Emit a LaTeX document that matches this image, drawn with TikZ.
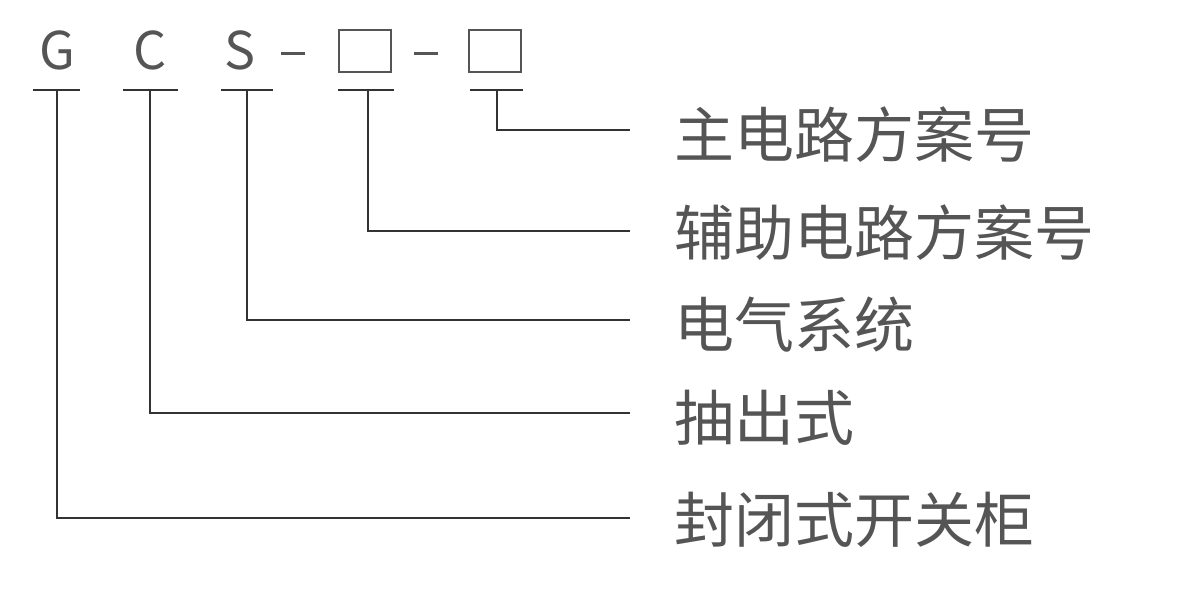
\documentclass[tikz,border=0pt]{standalone}
\usepackage{fontspec}
\newfontfamily\cjk{Noto Sans CJK SC}
\definecolor{txt}{HTML}{555555}
\definecolor{ln}{HTML}{333333}
\begin{document}
\begin{tikzpicture}[x=1pt,y=-1pt,
  lbl/.style={anchor=west,inner sep=0,text=txt,font=\cjk\fontsize{60}{64}\selectfont},
  let/.style={inner sep=0,text=txt,font=\cjk\fontsize{52}{56}\selectfont},
  bx/.style={draw=txt,line width=2pt,minimum width=52,minimum height=42,inner sep=0},
  dsh/.style={draw=txt,line width=3pt},
  wire/.style={draw=ln,line width=1.5pt}]
\useasboundingbox (0,0) rectangle (1204,590);
\node[let] (g) at (57,50) {G};
\node[let] (c) at (150,50) {C};
\node[let] (s) at (240,50) {S};
\coordinate (d1a) at (281,53); \coordinate (d1b) at (305,53);
\draw[dsh] (d1a) -- (d1b);
\node[bx] (b1) at (365,51) {};
\coordinate (d2a) at (414,53); \coordinate (d2b) at (438,53);
\draw[dsh] (d2a) -- (d2b);
\node[bx] (b2) at (495,51) {};
\foreach \a/\b in {33/80,123/178,221/273,338/394,470/523}
  \draw[wire] (\a,90) -- (\b,90);
\node[lbl] (l1) at (674,135) {主电路方案号};
\node[lbl] (l2) at (674,233) {辅助电路方案号};
\node[lbl] (l3) at (674,325) {电气系统};
\node[lbl] (l4) at (674,418) {抽出式};
\node[lbl] (l5) at (674,520) {封闭式开关柜};
\draw[wire] (497,90) |- (630,130);
\draw[wire] (368,90) |- (630,231);
\draw[wire] (247,90) |- (630,320);
\draw[wire] (150,90) |- (630,413);
\draw[wire] (57,90) |- (630,518);
\end{tikzpicture}
\end{document}
